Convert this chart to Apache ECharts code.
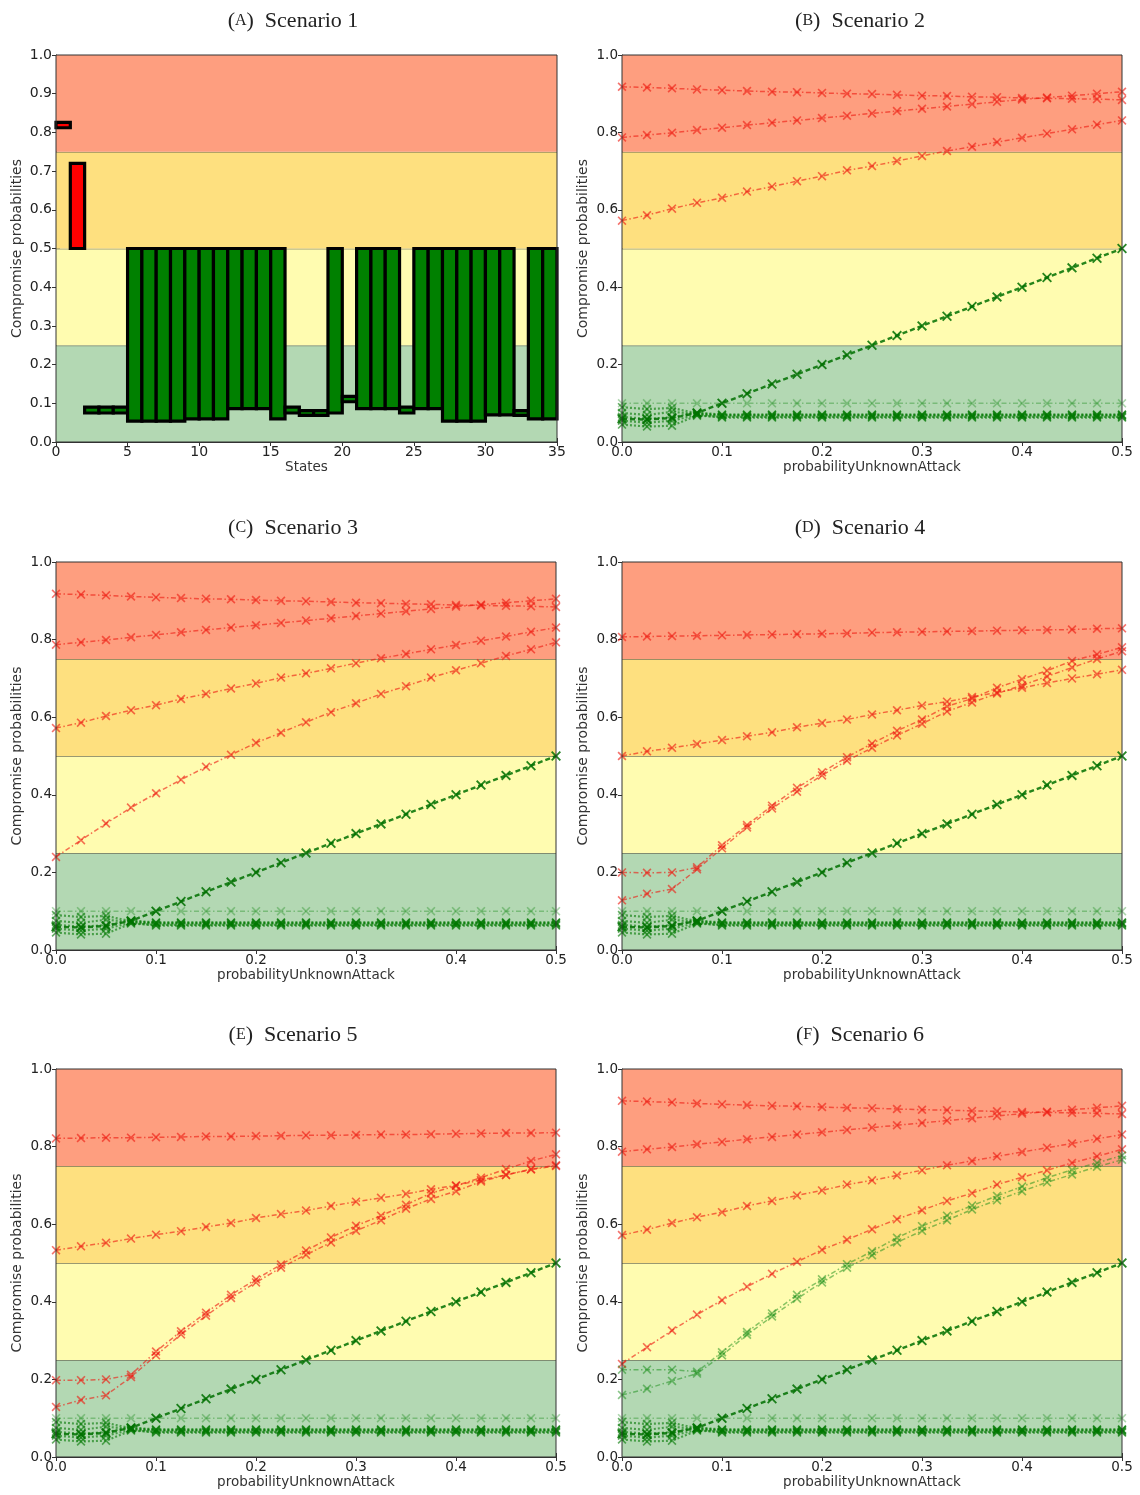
<!DOCTYPE html>
<html><head><meta charset="utf-8">
<script src="https://cdn.jsdelivr.net/npm/echarts@6/dist/echarts.min.js"></script>
<style>html,body{margin:0;padding:0;background:#fff}#c{width:1140px;height:1495px}</style>
</head><body><div id="c"></div>
<script>
// ---------- DATA ----------
const panelLetters = ['A','B','C','D','E','F'];
const panelNames = ['Scenario 1','Scenario 2','Scenario 3','Scenario 4','Scenario 5','Scenario 6'];
const bandEdges = [0, 0.25, 0.5, 0.75, 1.0];

// Scenario 1: floating bars per state (0..34)
const stateIndex = [0,1,2,3,4,5,6,7,8,9,10,11,12,13,14,15,16,17,18,19,20,21,22,23,24,25,26,27,28,29,30,31,32,33,34];
const stateLow  = [0.812,0.500,0.075,0.075,0.075,0.054,0.054,0.054,0.054,0.060,0.060,0.060,0.086,0.086,0.086,0.060,0.075,0.069,0.069,0.075,0.104,0.086,0.086,0.086,0.075,0.086,0.086,0.054,0.054,0.054,0.070,0.070,0.069,0.060,0.060];
const stateHigh = [0.826,0.720,0.090,0.090,0.090,0.500,0.500,0.500,0.500,0.500,0.500,0.500,0.500,0.500,0.500,0.500,0.090,0.081,0.081,0.500,0.118,0.500,0.500,0.500,0.090,0.500,0.500,0.500,0.500,0.500,0.500,0.500,0.081,0.500,0.500];
const stateKind = ['r','r','g','g','g','g','g','g','g','g','g','g','g','g','g','g','g','g','g','g','g','g','g','g','g','g','g','g','g','g','g','g','g','g','g'];

// Scenarios 2-6: x = probabilityUnknownAttack
const xProb = [0,0.025,0.05,0.075,0.1,0.125,0.15,0.175,0.2,0.225,0.25,0.275,0.3,0.325,0.35,0.375,0.4,0.425,0.45,0.475,0.5];

const redFallB  = [0.918,0.916,0.914,0.911,0.909,0.907,0.905,0.904,0.902,0.900,0.899,0.897,0.895,0.894,0.892,0.891,0.889,0.888,0.887,0.886,0.884];
const redRiseB  = [0.787,0.793,0.799,0.806,0.812,0.819,0.825,0.831,0.837,0.843,0.849,0.855,0.861,0.867,0.873,0.879,0.885,0.890,0.895,0.900,0.905];
const redMidB   = [0.572,0.586,0.603,0.618,0.631,0.647,0.660,0.674,0.687,0.702,0.713,0.726,0.739,0.752,0.763,0.775,0.786,0.797,0.808,0.820,0.831];
const redSteepC = [0.240,0.283,0.326,0.367,0.404,0.439,0.472,0.503,0.534,0.560,0.587,0.613,0.636,0.660,0.680,0.702,0.721,0.739,0.758,0.775,0.793];

const redTopD    = [0.807,0.808,0.809,0.810,0.811,0.812,0.813,0.814,0.815,0.816,0.818,0.819,0.820,0.821,0.822,0.823,0.824,0.825,0.826,0.828,0.829];
const redMidD    = [0.500,0.512,0.521,0.531,0.541,0.551,0.561,0.574,0.585,0.594,0.607,0.618,0.630,0.640,0.652,0.664,0.676,0.688,0.700,0.711,0.722];
const redCurveD1 = [0.200,0.199,0.200,0.213,0.270,0.322,0.372,0.418,0.458,0.497,0.532,0.565,0.594,0.628,0.648,0.676,0.698,0.720,0.745,0.762,0.780];
const redCurveD2 = [0.128,0.145,0.157,0.208,0.262,0.316,0.365,0.408,0.450,0.488,0.521,0.553,0.583,0.615,0.638,0.661,0.682,0.705,0.728,0.750,0.770];

const redTopE    = [0.821,0.822,0.823,0.823,0.824,0.825,0.826,0.826,0.827,0.828,0.829,0.829,0.830,0.831,0.831,0.832,0.833,0.834,0.835,0.835,0.836];
const redMidE    = [0.533,0.543,0.552,0.563,0.573,0.582,0.593,0.603,0.616,0.626,0.635,0.647,0.658,0.668,0.678,0.690,0.700,0.714,0.727,0.741,0.750];
const redCurveE1 = [0.198,0.198,0.200,0.212,0.272,0.324,0.372,0.418,0.458,0.496,0.532,0.566,0.596,0.622,0.650,0.680,0.699,0.720,0.742,0.763,0.780];
const redCurveE2 = [0.129,0.147,0.159,0.206,0.262,0.316,0.364,0.410,0.450,0.488,0.521,0.553,0.583,0.610,0.640,0.665,0.685,0.710,0.727,0.742,0.752];

const greenCurveF1 = [0.225,0.225,0.225,0.220,0.270,0.322,0.370,0.418,0.458,0.497,0.530,0.565,0.595,0.622,0.648,0.673,0.697,0.720,0.740,0.758,0.777];
const greenCurveF2 = [0.160,0.176,0.196,0.215,0.262,0.315,0.362,0.408,0.450,0.488,0.520,0.553,0.583,0.610,0.638,0.662,0.685,0.708,0.728,0.748,0.766];

const greenDiag    = [0.060,0.058,0.062,0.075,0.100,0.125,0.150,0.175,0.200,0.225,0.250,0.275,0.300,0.325,0.350,0.375,0.400,0.425,0.450,0.475,0.500];
const greenFlatTop = [0.100,0.100,0.100,0.100,0.100,0.100,0.100,0.100,0.100,0.100,0.100,0.100,0.100,0.100,0.100,0.100,0.100,0.100,0.100,0.100,0.100];
const greenFlatA   = [0.090,0.085,0.088,0.074,0.070,0.070,0.070,0.070,0.070,0.070,0.070,0.070,0.070,0.070,0.070,0.070,0.070,0.070,0.070,0.070,0.070];
const greenFlatB   = [0.045,0.040,0.042,0.068,0.065,0.065,0.065,0.065,0.065,0.065,0.065,0.065,0.065,0.065,0.065,0.065,0.065,0.065,0.065,0.065,0.065];
const greenFlatC   = [0.075,0.070,0.078,0.072,0.068,0.068,0.068,0.068,0.068,0.068,0.068,0.068,0.068,0.068,0.068,0.068,0.068,0.068,0.068,0.068,0.068];
const greenFlatD   = [0.055,0.050,0.055,0.070,0.063,0.063,0.063,0.063,0.063,0.063,0.063,0.063,0.063,0.063,0.063,0.063,0.063,0.063,0.063,0.063,0.063];
const greenFlatE   = [0.065,0.060,0.064,0.076,0.071,0.071,0.071,0.071,0.071,0.071,0.071,0.071,0.071,0.071,0.071,0.071,0.071,0.071,0.071,0.071,0.071];

// ---------- STYLE / LAYOUT ----------
const BAND_FILL = ['#b3d8b3', '#fffcb0', '#fee07f', '#fe9e7f'];
const GRIDS = [
  {left:56,  top:55,   width:501, height:387},
  {left:622, top:55,   width:500, height:387},
  {left:56,  top:562,  width:500, height:388},
  {left:622, top:562,  width:500, height:388},
  {left:56,  top:1069, width:500, height:388},
  {left:622, top:1069, width:500, height:388}
];
const TITLE_POS = [[288,5],[855,5],[288,512],[855,512],[288,1019],[855,1019]];
const XMARK = 'path://M0,1.3L1.3,0L5,3.7L8.7,0L10,1.3L6.3,5L10,8.7L8.7,10L5,6.3L1.3,10L0,8.7L3.7,5Z';
const SANS = 'DejaVu Sans';

const ST = {
  red:      {color:'rgba(238,28,18,0.62)', width:1.5, type:[5,2.5,1.5,2.5], size:9},
  greenDiag:{color:'rgba(0,112,0,0.85)',   width:2.4, type:[5,3], size:10},
  greenTop: {color:'rgba(0,128,0,0.32)',   width:1.4, type:[5,2.5,1.5,2.5], size:9},
  greenFlat:{color:'rgba(0,120,0,0.6)',    width:2.2, type:[2,2], size:9},
  greenCur: {color:'rgba(20,140,20,0.5)',  width:1.5, type:[5,2.5,1.5,2.5], size:9}
};

const greenSet = [[greenFlatTop,'greenTop'],[greenFlatA,'greenFlat'],[greenFlatB,'greenFlat'],[greenFlatC,'greenFlat'],[greenFlatD,'greenFlat'],[greenFlatE,'greenFlat'],[greenDiag,'greenDiag']];
const panelLines = [
  null,
  [[redFallB,'red'],[redRiseB,'red'],[redMidB,'red']].concat(greenSet),
  [[redFallB,'red'],[redRiseB,'red'],[redMidB,'red'],[redSteepC,'red']].concat(greenSet),
  [[redTopD,'red'],[redMidD,'red'],[redCurveD1,'red'],[redCurveD2,'red']].concat(greenSet),
  [[redTopE,'red'],[redMidE,'red'],[redCurveE1,'red'],[redCurveE2,'red']].concat(greenSet),
  [[redFallB,'red'],[redRiseB,'red'],[redMidB,'red'],[redSteepC,'red'],[greenCurveF1,'greenCur'],[greenCurveF2,'greenCur']].concat(greenSet)
];

const grid = [], xAxis = [], yAxis = [], series = [], title = [];

function bandRender(params, api) {
  const cs = params.coordSys;
  const lo = api.value(0), hi = api.value(1);
  const yTop = api.coord([api.value(2), hi])[1];
  const yBot = api.coord([api.value(2), lo])[1];
  const children = [{type:'rect', shape:{x:cs.x, y:yTop, width:cs.width, height:yBot-yTop}, style:{fill:BAND_FILL[params.dataIndex]}}];
  if (hi < 1) children.push({type:'line', shape:{x1:cs.x, y1:yTop+0.5, x2:cs.x+cs.width, y2:yTop+0.5}, style:{stroke:'rgba(100,100,80,0.65)', lineWidth:1}});
  return {type:'group', children};
}
function barRender(params, api) {
  const i = api.value(0);
  const p1 = api.coord([i, api.value(2)]);
  const p2 = api.coord([i + 1, api.value(1)]);
  const kind = stateKind[params.dataIndex];
  return {type:'rect', shape:{x:p1[0], y:p1[1], width:p2[0]-p1[0], height:p2[1]-p1[1]},
          style:{fill: kind === 'r' ? '#ff0000' : '#008000', stroke:'#000', lineWidth:3.2}};
}

for (let g = 0; g < 6; g++) {
  const isBar = g === 0;
  const fs = isBar ? 14 : 13.5;
  grid.push(Object.assign({show:true, borderColor:'#333', borderWidth:1, backgroundColor:'transparent', z:10}, GRIDS[g]));
  const xmax = isBar ? 35 : 0.5, xint = isBar ? 5 : 0.1;
  const ymax = 1, yint = isBar ? 0.1 : 0.2;
  const tick = {inside:true, length:4, lineStyle:{color:'#333'}};
  xAxis.push({type:'value', gridIndex:g, min:0, max:xmax, interval:xint, position:'bottom',
    axisLine:{show:true, onZero:false, lineStyle:{color:'#333'}}, axisTick:tick, splitLine:{show:false},
    axisLabel:{margin:3, color:'#222', fontFamily:SANS, fontSize:fs, formatter: v => isBar ? String(Math.round(v)) : v.toFixed(1)},
    name: isBar ? 'States' : 'probabilityUnknownAttack', nameLocation:'middle', nameGap:18,
    nameTextStyle:{color:'#333', fontFamily:SANS, fontSize:13.5}});
  xAxis.push({type:'value', gridIndex:g, min:0, max:xmax, interval:xint, position:'top',
    axisLine:{show:false}, axisTick:tick, axisLabel:{show:false}, splitLine:{show:false}});
  yAxis.push({type:'value', gridIndex:g, min:0, max:ymax, interval:yint, position:'left',
    axisLine:{show:true, onZero:false, lineStyle:{color:'#333'}}, axisTick:tick, splitLine:{show:false},
    axisLabel:{margin:4, color:'#222', fontFamily:SANS, fontSize:fs, formatter: v => v.toFixed(1)},
    name:'Compromise probabilities', nameLocation:'middle', nameGap:32,
    nameTextStyle:{color:'#333', fontFamily:SANS, fontSize:14}});
  yAxis.push({type:'value', gridIndex:g, min:0, max:ymax, interval:yint, position:'right',
    axisLine:{show:false}, axisTick:tick, axisLabel:{show:false}, splitLine:{show:false}});

  // background risk bands
  const bandData = [];
  for (let b = 0; b < bandEdges.length - 1; b++) bandData.push([bandEdges[b], bandEdges[b+1], 0]);
  series.push({type:'custom', xAxisIndex:2*g, yAxisIndex:2*g, renderItem:bandRender, data:bandData,
    encode:{x:2, y:[0,1]}, z:1, silent:true, animation:false});

  if (isBar) {
    series.push({type:'custom', xAxisIndex:0, yAxisIndex:0, renderItem:barRender,
      data: stateIndex.map((s, i) => [s, stateLow[i], stateHigh[i]]),
      encode:{x:0, y:[1,2]}, z:3, silent:true, animation:false});
  } else {
    panelLines[g].forEach(([arr, key]) => {
      const s = ST[key];
      series.push({type:'line', xAxisIndex:2*g, yAxisIndex:2*g,
        data: xProb.map((x, i) => [x, arr[i]]),
        symbol:XMARK, symbolSize:s.size, showAllSymbol:true,
        lineStyle:{color:s.color, width:s.width, type:s.type},
        itemStyle:{color:s.color}, z:3, silent:true, animation:false, clip:false});
    });
  }

  title.push({text:'(' + '{sc|' + panelLetters[g] + '}' + ')  ' + panelNames[g],
    left:TITLE_POS[g][0], top:TITLE_POS[g][1], textAlign:'center',
    textStyle:{fontFamily:'Liberation Serif', fontSize:22, fontWeight:'normal', color:'#222',
      rich:{sc:{fontFamily:'Liberation Serif', fontSize:16, color:'#222'}}}});
}

const chart = echarts.init(document.getElementById('c'), null, {renderer:'canvas'});
chart.setOption({animation:false, backgroundColor:'#fff', title, grid, xAxis, yAxis, series});
</script></body></html>
